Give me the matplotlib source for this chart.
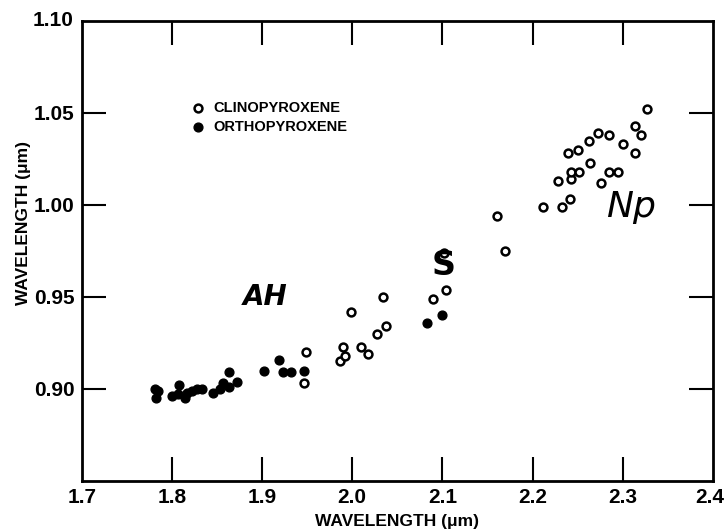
# Band I vs band II wavelength for clino- and orthopyroxenes.
# Values.

import matplotlib.pyplot as plt

# clinopyroxene (open circles)
clino_band2 = [1.946, 1.949, 1.986, 1.990, 1.992, 1.999, 2.010, 2.017, 2.027,
               2.034, 2.037, 2.089, 2.102, 2.104, 2.160, 2.169, 2.212, 2.233,
               2.228, 2.239, 2.242, 2.243, 2.243, 2.250, 2.252, 2.263, 2.264,
               2.273, 2.276, 2.285, 2.285, 2.295, 2.300, 2.313, 2.314, 2.320,
               2.327]
clino_band1 = [0.903, 0.920, 0.915, 0.923, 0.918, 0.942, 0.923, 0.919, 0.930,
               0.950, 0.934, 0.949, 0.974, 0.954, 0.994, 0.975, 0.999, 0.999,
               1.013, 1.028, 1.003, 1.014, 1.018, 1.030, 1.018, 1.035, 1.023,
               1.039, 1.012, 1.038, 1.018, 1.018, 1.033, 1.028, 1.043, 1.038,
               1.052]

# orthopyroxene (filled circles)
ortho_band2 = [1.781, 1.785, 1.782, 1.800, 1.808, 1.807, 1.814, 1.817, 1.822,
               1.828, 1.833, 1.846, 1.853, 1.857, 1.863, 1.863, 1.872, 1.902,
               1.919, 1.923, 1.932, 1.947, 2.083, 2.099]
ortho_band1 = [0.900, 0.899, 0.895, 0.896, 0.902, 0.897, 0.895, 0.898, 0.899,
               0.900, 0.900, 0.898, 0.900, 0.903, 0.909, 0.901, 0.904, 0.910,
               0.916, 0.909, 0.909, 0.910, 0.936, 0.940]

x_ticks = [1.7, 1.8, 1.9, 2.0, 2.1, 2.2, 2.3, 2.4]
x_tick_labels = ["1.7", "1.8", "1.9", "2.0", "2.1", "2.2", "2.3", "2.4"]
y_ticks = [0.90, 0.95, 1.00, 1.05, 1.10]
y_tick_labels = ["0.90", "0.95", "1.00", "1.05", "1.10"]

FONT = ["Liberation Sans Narrow", "Liberation Sans", "DejaVu Sans"]
TICK_SIZE = 15


def plot_wavelengths(filename="out.png"):
    fig = plt.figure(figsize=(7.25, 5.31), dpi=100)
    ax = fig.add_axes([0.1127, 0.0942, 0.8707, 0.8663])

    ax.scatter(clino_band2, clino_band1, s=32, facecolors="white",
               edgecolors="black", linewidths=1.8, zorder=3)
    ax.scatter(ortho_band2, ortho_band1, s=40, color="black", zorder=3)

    ax.set_xlim(1.7, 2.4)
    ax.set_ylim(0.85, 1.10)
    ax.set_xticks(x_ticks[1:-1])
    ax.set_xticklabels(x_tick_labels[1:-1])
    ax.set_yticks(y_ticks[:-1])
    ax.set_yticklabels(y_tick_labels[:-1])
    ax.tick_params(direction="in", length=17, width=1.5, top=True, right=True,
                   labelsize=TICK_SIZE, pad=5)
    for lab in ax.get_xticklabels() + ax.get_yticklabels():
        lab.set_family(FONT)
        lab.set_fontweight("bold")
    # end labels sit on the corners, with no tick mark
    ax.text(0.0, -0.016, x_tick_labels[0], transform=ax.transAxes, ha="center",
            va="top", fontsize=TICK_SIZE, family=FONT, fontweight="bold")
    ax.text(1.0174, -0.016, x_tick_labels[-1], transform=ax.transAxes,
            ha="right", va="top", fontsize=TICK_SIZE, family=FONT,
            fontweight="bold")
    ax.text(-0.013, 1.0, y_tick_labels[-1], transform=ax.transAxes, ha="right",
            va="center", fontsize=TICK_SIZE, family=FONT, fontweight="bold")

    for side in ax.spines.values():
        side.set_linewidth(2)

    ax.set_xlabel("WAVELENGTH (\u03bcm)", fontsize=12.5, family=FONT,
                  fontweight="bold")
    ax.set_ylabel("WAVELENGTH (\u03bcm)", fontsize=12.5, family=FONT,
                  fontweight="bold")
    ax.xaxis.set_label_coords(0.5, -0.072)
    ax.yaxis.set_label_coords(-0.08, 0.56)

    # legend drawn by hand, no frame
    ax.scatter([0.184], [0.8115], s=32, facecolors="white", edgecolors="black",
               linewidths=1.8, transform=ax.transAxes)
    ax.scatter([0.184], [0.769], s=40, color="black", transform=ax.transAxes)
    ax.text(0.209, 0.8115, "CLINOPYROXENE", transform=ax.transAxes,
            va="center", fontsize=10.5, family=FONT, fontweight="bold")
    ax.text(0.209, 0.769, "ORTHOPYROXENE", transform=ax.transAxes,
            va="center", fontsize=10.5, family=FONT, fontweight="bold")

    # handwritten mineral labels
    ax.text(1.903, 0.950, "AH", fontsize=20, style="italic",
            fontweight="bold", ha="center", va="center")
    ax.text(2.101, 0.967, "S", fontsize=24, fontweight="bold",
            ha="center", va="center")
    ax.text(2.309, 0.999, "Np", fontsize=26, style="italic",
            ha="center", va="center")

    fig.savefig(filename, dpi=100)
    plt.close(fig)


if __name__ == "__main__":
    plot_wavelengths()
